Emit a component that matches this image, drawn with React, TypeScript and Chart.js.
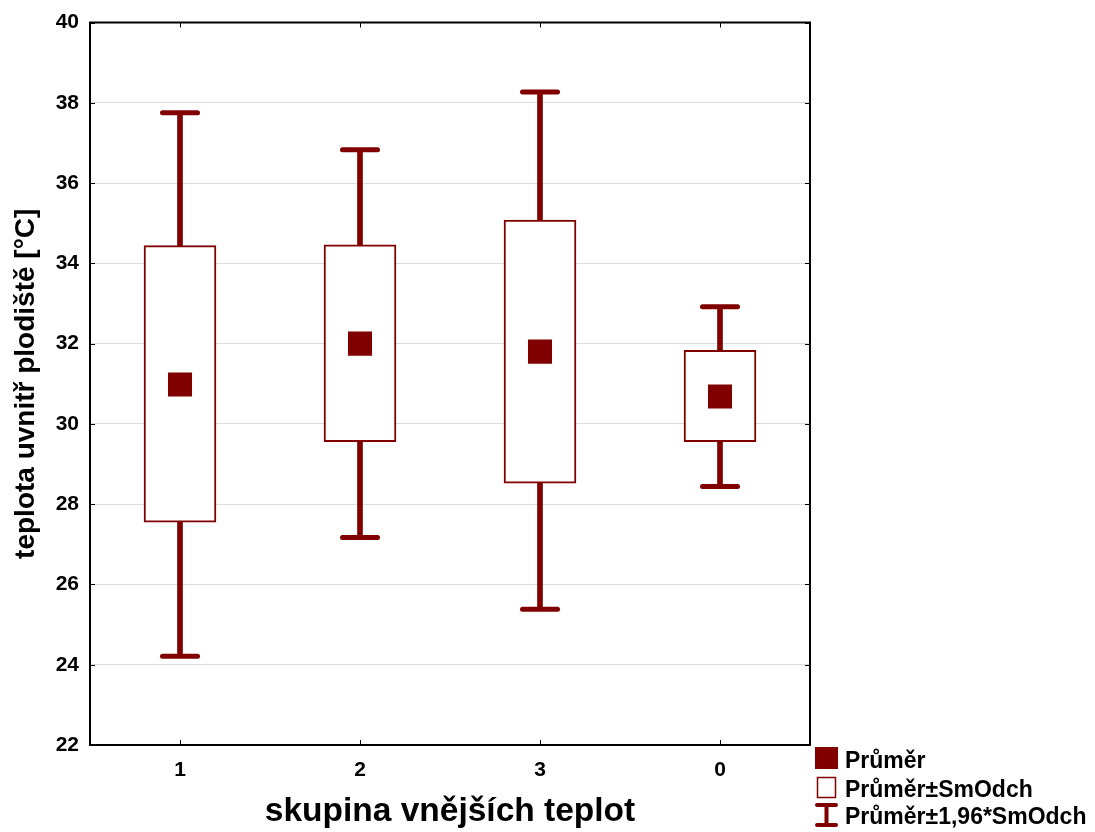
import React, { useEffect, useRef } from "react";
import { Chart, registerables } from "chart.js";

Chart.register(...registerables);

const categories = ["1", "2", "3", "0"];
const means = [30.98, 32.0, 31.8, 30.68];
const sdLow = [27.55, 29.56, 28.52, 29.56];
const sdHigh = [34.44, 34.46, 35.08, 31.83];
const ciLow = [24.21, 27.17, 25.38, 28.44];
const ciHigh = [37.75, 36.83, 38.27, 32.92];

const yMin = 22;
const yMax = 40;
const yStep = 2;

const xTitle = "skupina vnějších teplot";
const yTitle = "teplota uvnitř plodiště [°C]";
const legendLabels = ["Průměr", "Průměr±SmOdch", "Průměr±1,96*SmOdch"];

const DARK = "#800000";
const FONT = "'Liberation Sans', Arial, Helvetica, sans-serif";

const roundCapPlugin = {
  id: "roundCap",
  beforeDatasetDraw(chart: any, args: any) {
    chart.ctx.save();
    if (args.meta && args.meta._dataset && args.meta._dataset.roundCaps) {
      chart.ctx.lineCap = "round";
    }
  },
  afterDatasetDraw(chart: any) {
    chart.ctx.restore();
  },
};

const framePlugin = {
  id: "frame",
  afterDraw(chart: any) {
    const { ctx, chartArea, scales } = chart;
    const { left, right, top, bottom } = chartArea;
    ctx.save();
    ctx.strokeStyle = "#000";
    ctx.lineWidth = 1;
    const tl = 5;
    const y = scales.y;
    y.ticks.forEach((_t: any, i: number) => {
      const py = Math.round(y.getPixelForTick(i)) + 0.5;
      ctx.beginPath();
      ctx.moveTo(left, py);
      ctx.lineTo(left + tl, py);
      ctx.moveTo(right - tl, py);
      ctx.lineTo(right, py);
      ctx.stroke();
    });
    const x = scales.x;
    x.ticks.forEach((_t: any, i: number) => {
      const px = Math.round(x.getPixelForTick(i)) + 0.5;
      ctx.beginPath();
      ctx.moveTo(px, top);
      ctx.lineTo(px, top + tl);
      ctx.moveTo(px, bottom - tl);
      ctx.lineTo(px, bottom);
      ctx.stroke();
    });
    ctx.lineWidth = 2;
    ctx.strokeRect(left, top, right - left, bottom - top);

    // legend
    const lx = 815;
    ctx.font = `bold 23px ${FONT}`;
    ctx.fillStyle = "#000";
    ctx.textBaseline = "alphabetic";
    ctx.textAlign = "left";
    ctx.fillStyle = DARK;
    ctx.fillRect(lx, 747, 23, 22);
    ctx.fillStyle = "#000";
    ctx.fillText(legendLabels[0], 845, 768);
    ctx.strokeStyle = DARK;
    ctx.lineWidth = 1.5;
    ctx.strokeRect(lx + 2.5, 777.5, 18, 20);
    ctx.fillText(legendLabels[1], 845, 797);
    ctx.strokeStyle = DARK;
    ctx.lineCap = "round";
    ctx.lineWidth = 4;
    ctx.beginPath();
    ctx.moveTo(lx + 2, 805);
    ctx.lineTo(lx + 21, 805);
    ctx.moveTo(lx + 2, 825);
    ctx.lineTo(lx + 21, 825);
    ctx.moveTo(lx + 11.5, 805);
    ctx.lineTo(lx + 11.5, 825);
    ctx.stroke();
    ctx.fillText(legendLabels[2], 845, 824);
    ctx.restore();
  },
};

export default function App() {
  const ref = useRef<HTMLCanvasElement>(null);
  useEffect(() => {
    if (!ref.current) return;
    const chart = new Chart(ref.current, {
      type: "bar",
      data: {
        labels: categories,
        datasets: [
          {
            type: "line",
            label: legendLabels[0],
            data: means,
            showLine: false,
            pointStyle: "rect",
            pointRadius: 17,
            pointHoverRadius: 17,
            pointBackgroundColor: DARK,
            pointBorderWidth: 0,
            borderColor: DARK,
            order: 0,
          } as any,
          {
            type: "line",
            label: "cap high",
            data: ciHigh,
            showLine: false,
            pointStyle: "line",
            pointRadius: 17.5,
            pointBorderWidth: 5,
            pointBorderColor: DARK,
            borderColor: DARK,
            roundCaps: true,
            order: 1,
          } as any,
          {
            type: "line",
            label: "cap low",
            data: ciLow,
            showLine: false,
            pointStyle: "line",
            pointRadius: 17.5,
            pointBorderWidth: 5,
            pointBorderColor: DARK,
            borderColor: DARK,
            roundCaps: true,
            order: 1,
          } as any,
          {
            type: "bar",
            label: legendLabels[1],
            data: sdLow.map((v, i) => [v, sdHigh[i]]),
            backgroundColor: "#ffffff",
            borderColor: DARK,
            borderWidth: 2,
            borderSkipped: false,
            barThickness: 72,
            grouped: false,
            order: 2,
          } as any,
          {
            type: "bar",
            label: legendLabels[2],
            data: ciLow.map((v, i) => [v, ciHigh[i]]),
            backgroundColor: DARK,
            borderWidth: 0,
            barThickness: 5,
            grouped: false,
            order: 3,
          } as any,
        ],
      },
      options: {
        animation: false,
        responsive: false,
        layout: { padding: { left: 0, right: 285, top: 21, bottom: 0 } },
        plugins: {
          legend: { display: false },
          tooltip: { enabled: false },
          title: { display: false },
        },
        scales: {
          x: {
            type: "category",
            offset: true,
            grid: { display: false, drawTicks: false },
            border: { display: false },
            ticks: {
              color: "#000",
              font: { family: FONT, size: 21, weight: "bold" },
              padding: 13,
            },
            title: {
              display: true,
              text: xTitle,
              color: "#000",
              font: { family: FONT, size: 33.5, weight: "bold" },
              padding: { top: 0, bottom: 0 },
            },
            afterFit(scale: any) {
              scale.height = 87;
            },
          },
          y: {
            min: yMin,
            max: yMax,
            grid: { color: "#dcdcdc", lineWidth: 1, drawTicks: false },
            border: { display: false },
            ticks: {
              stepSize: yStep,
              color: "#000",
              font: { family: FONT, size: 21, weight: "bold", lineHeight: 0.9 },
              padding: 11,
            },
            title: {
              display: true,
              text: yTitle,
              color: "#000",
              font: { family: FONT, size: 28, weight: "bold" },
              padding: { top: 9, bottom: 0 },
            },
            afterFit(scale: any) {
              scale.width = 90;
            },
          },
        },
      },
      plugins: [roundCapPlugin, framePlugin],
    });
    return () => chart.destroy();
  }, []);
  return (
    <div style={{ position: "absolute", left: 0, top: 0, width: 1095, height: 832, background: "#fff" }}>
      <canvas ref={ref} width={1095} height={832} style={{ display: "block" }} />
    </div>
  );
}
